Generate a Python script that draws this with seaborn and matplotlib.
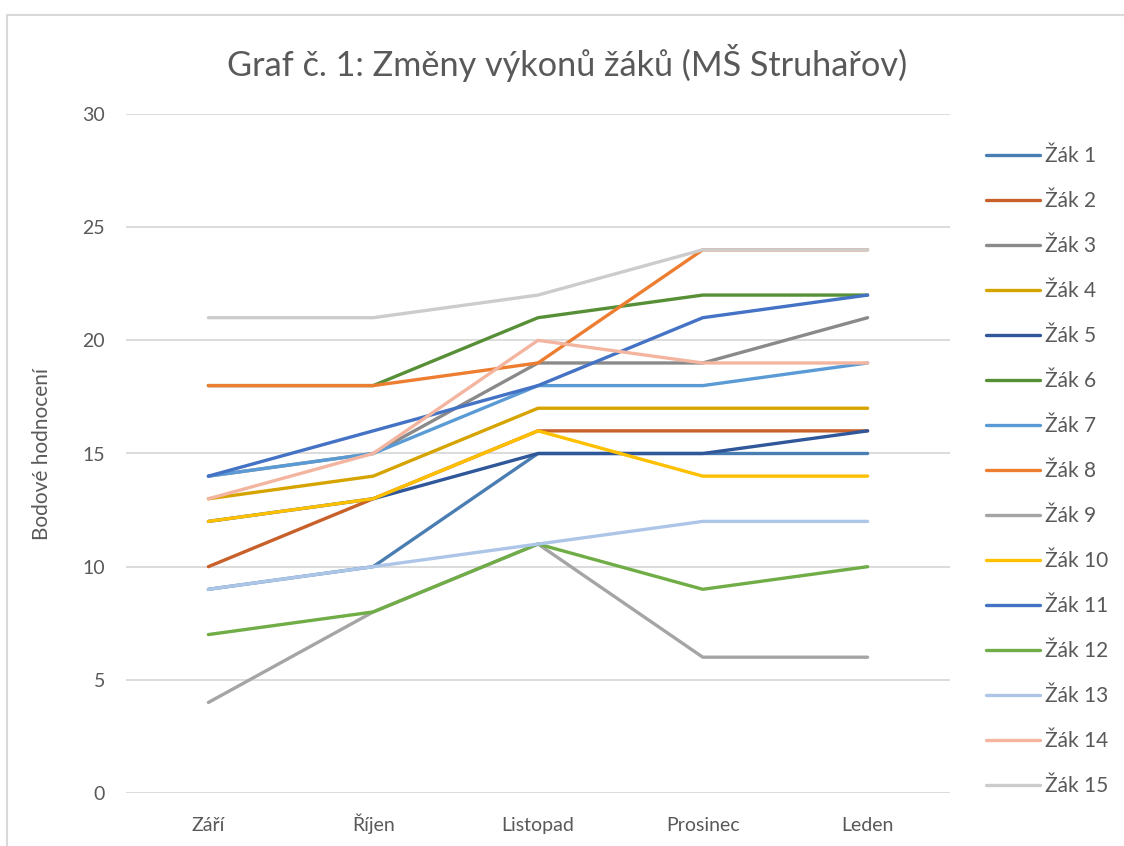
import matplotlib
matplotlib.use("Agg")
import matplotlib.pyplot as plt
import seaborn as sns
import pandas as pd
from matplotlib.patches import Rectangle

months = ["Září", "Říjen", "Listopad", "Prosinec", "Leden"]
students = [f"Žák {i}" for i in range(1, 16)]

zak1 = [9, 10, 15, 15, 15]
zak2 = [10, 13, 16, 16, 16]
zak3 = [14, 15, 19, 19, 21]
zak4 = [13, 14, 17, 17, 17]
zak5 = [12, 13, 15, 15, 16]
zak6 = [18, 18, 21, 22, 22]
zak7 = [14, 15, 18, 18, 19]
zak8 = [18, 18, 19, 24, 24]
zak9 = [4, 8, 11, 6, 6]
zak10 = [12, 13, 16, 14, 14]
zak11 = [14, 16, 18, 21, 22]
zak12 = [7, 8, 11, 9, 10]
zak13 = [9, 10, 11, 12, 12]
zak14 = [13, 15, 20, 19, 19]
zak15 = [21, 21, 22, 24, 24]

series = [zak1, zak2, zak3, zak4, zak5, zak6, zak7, zak8, zak9, zak10,
          zak11, zak12, zak13, zak14, zak15]

colors = ["#4A7DB2", "#C8602A", "#8A8A8A", "#D6A400", "#30579A",
          "#578F37", "#5B9BD5", "#ED7D31", "#A5A5A5", "#FFC000",
          "#4472C4", "#70AD47", "#ADC6E8", "#F4B5A0", "#CCCCCC"]

rows = []
for name, vals in zip(students, series):
    for m, v in zip(months, vals):
        rows.append({"Měsíc": m, "Body": v, "Žák": name})
df = pd.DataFrame(rows)

sns.set_theme(style="white")
plt.rcParams["font.family"] = ["Lato", "DejaVu Sans"]

fig = plt.figure(figsize=(11.24, 8.46), dpi=100)
ax = fig.add_axes([126 / 1124, 53 / 846, 824 / 1124, 679 / 846])

fig.patches.append(Rectangle((7 / 1124, -0.1), 1.2, (846 - 15) / 846 + 0.1,
                             transform=fig.transFigure, fill=False,
                             edgecolor="#D9D9D9", linewidth=1.5, zorder=0))

sns.lineplot(data=df, x="Měsíc", y="Body", hue="Žák", hue_order=students,
             palette=colors, sort=False, linewidth=2.4, ax=ax,
             solid_capstyle="round", solid_joinstyle="round")

ax.set_xlim(-0.5, 4.5)
ax.set_ylim(0, 30)
ax.set_yticks(range(0, 31, 5))
ax.set_xticks(range(len(months)))
ax.set_xticklabels(months, va="baseline")
ax.yaxis.grid(True, color="#D9D9D9", linewidth=1.3)
ax.set_axisbelow(True)
for s in ax.spines.values():
    s.set_visible(False)
ax.tick_params(axis="both", length=0, labelsize=14, colors="#595959")
ax.tick_params(axis="y", pad=15)
ax.tick_params(axis="x", pad=27)
ax.set_xlabel("")
ax.set_ylabel("Bodové hodnocení", fontsize=15, color="#595959", labelpad=22)

fig.text(0.5045, 0.926, "Graf č. 1: Změny výkonů žáků (MŠ Struhařov)",
         ha="center", va="center", fontsize=24.7, color="#595959")

handles, labels = ax.get_legend_handles_labels()
ax.legend(handles, labels, loc="upper left", bbox_to_anchor=(986 / 1124, 1 - 146 / 846),
          bbox_transform=fig.transFigure, frameon=False, fontsize=15,
          labelcolor="#595959", handlelength=2.6, handletextpad=0.25,
          labelspacing=1.20, borderaxespad=0, borderpad=0)

fig.savefig("out.png", dpi=100)
